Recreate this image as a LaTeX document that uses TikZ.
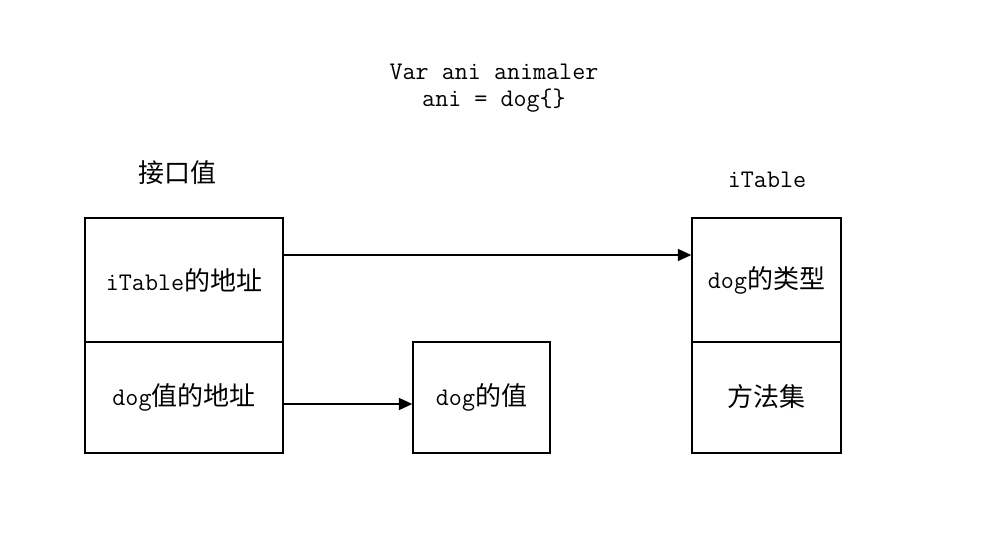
\documentclass[tikz,border=0pt]{standalone}
\usepackage{fontspec}
\newfontfamily\cjk{Noto Sans CJK SC}
\usetikzlibrary{arrows.meta}
\newcommand\lat[1]{{\fontsize{19}{22}\selectfont\ttfamily #1}}
\newcommand\han[1]{{\fontsize{19.5}{22}\selectfont\cjk #1}}
\tikzset{
  box/.style={draw,line width=1.1pt},
  lbl/.style={inner sep=0pt,anchor=center},
  arr/.style={line width=1.1pt,-{Triangle[length=10pt,width=9pt]}}
}
\begin{document}
\begin{tikzpicture}[x=0.75pt,y=-0.75pt]
\useasboundingbox (0,0) rectangle (986,547);
% left box
\node[box,minimum width=198*0.75pt,minimum height=124*0.75pt,inner sep=0pt] (ltop) at (184,280) {};
\node[box,minimum width=198*0.75pt,minimum height=111*0.75pt,inner sep=0pt] (lbot) at (184,397.5) {};
\node[lbl] (t1) at (184,280) {\lat{iTable}\han{的地址}};
\node[lbl] (t2) at (184,397) {\lat{dog}\han{值的地址}};
% middle
\node[box,minimum width=137*0.75pt,minimum height=111*0.75pt,inner sep=0pt] (mid) at (481.5,397.5) {};
\node[lbl] (t3) at (481.5,397) {\lat{dog}\han{的值}};
% right
\node[box,minimum width=149*0.75pt,minimum height=124*0.75pt,inner sep=0pt] (rtop) at (766.5,280) {};
\node[box,minimum width=149*0.75pt,minimum height=111*0.75pt,inner sep=0pt] (rbot) at (766.5,397.5) {};
\node[lbl] (t4) at (766.5,280) {\lat{dog}\han{的类型}};
\node[lbl] (t5) at (766.5,397) {\han{方法集}};
% labels
\node[lbl] (h1) at (177,173) {\han{接口值}};
\node[lbl] (h2) at (767,180) {\lat{iTable}};
\node[lbl] (ti1) at (494,72) {\lat{Var ani animaler}};
\node[lbl] (ti2) at (494,101) {\lat{ani = dog\{\}}};
% arrows
\coordinate (a1s) at (ltop.east |- 0,255);
\coordinate (a1e) at (rtop.west |- 0,255);
\draw[arr] (a1s) -- (a1e);
\coordinate (a2s) at (lbot.east |- 0,404);
\coordinate (a2e) at (mid.west |- 0,404);
\draw[arr] (a2s) -- (a2e);
\end{tikzpicture}
\end{document}
